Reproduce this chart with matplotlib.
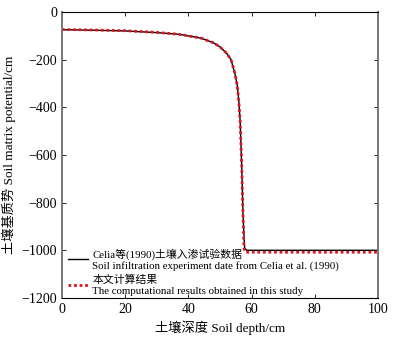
#!/usr/bin/env python3
"""Soil matrix potential vs depth: Celia (1990) experiment vs computed results."""

import matplotlib
matplotlib.use("Agg")
import matplotlib.pyplot as plt

depth_exp = [0, 10, 20, 30, 37, 44, 48, 50, 52, 53.5, 54.7, 55.5, 56.0, 56.4,
             56.9, 57.3, 57.8, 58.5, 60, 80, 100]
pot_exp = [-75, -77, -80, -87, -94, -110, -130, -147, -172, -200, -257, -310,
           -380, -460, -650, -850, -990, -1000, -1000, -1000, -1000]

# computed results
depth_calc = [0, 10, 20, 30, 37, 44, 48, 50, 52, 53.5, 54.7, 55.5, 56.0, 56.4,
              56.9, 57.3, 57.6, 58.0, 60, 80, 100]
pot_calc = [-74, -76, -79, -86, -94, -110, -130, -147, -172, -200, -257, -310,
            -380, -460, -650, -850, -990, -1008, -1008, -1008, -1008]

xticks = [0, 20, 40, 60, 80, 100]
yticks = [0, -200, -400, -600, -800, -1000, -1200]

label_exp = "Celia等(1990)土壤入渗试验数据\nSoil infiltration experiment date from Celia et al. (1990)"
label_calc = "本文计算结果\nThe computational results obtained in this study"

plt.rcParams["font.family"] = ["Liberation Serif", "Noto Sans CJK SC", "DejaVu Sans"]
plt.rcParams["axes.unicode_minus"] = True

fig = plt.figure(figsize=(3.97, 3.39), dpi=100)
ax = fig.add_axes([0.156, 0.121, 0.796, 0.844])

ax.plot(depth_exp, pot_exp, color="black", linewidth=1.0, label=label_exp)
ax.plot(depth_calc, pot_calc, color="#e0141e", linewidth=2.0, linestyle=(0, (1, 1)),
        label=label_calc)

ax.set_xlim(0, 100)
ax.set_ylim(-1200, 0)
ax.set_xticks(xticks)
ax.set_yticks(yticks)
ax.tick_params(direction="in", top=True, right=True, labelsize=10, length=3, width=0.6)
for s in ax.spines.values():
    s.set_linewidth(0.8)
for s in ("left", "right"):
    ax.spines[s].set_color("#777777")
    ax.spines[s].set_linewidth(1.4)

ax.set_xlabel("土壤深度 Soil depth/cm", fontsize=9.5, labelpad=3)
ax.set_ylabel("土壤基质势 Soil matrix potential/cm", fontsize=9.5, labelpad=4)

ax.legend(loc="lower left", bbox_to_anchor=(0.0, -0.015), frameon=False, fontsize=7.8,
          handlelength=1.8, handletextpad=0.4, labelspacing=0.35, borderaxespad=0.2)

fig.savefig("out.png", dpi=100)
